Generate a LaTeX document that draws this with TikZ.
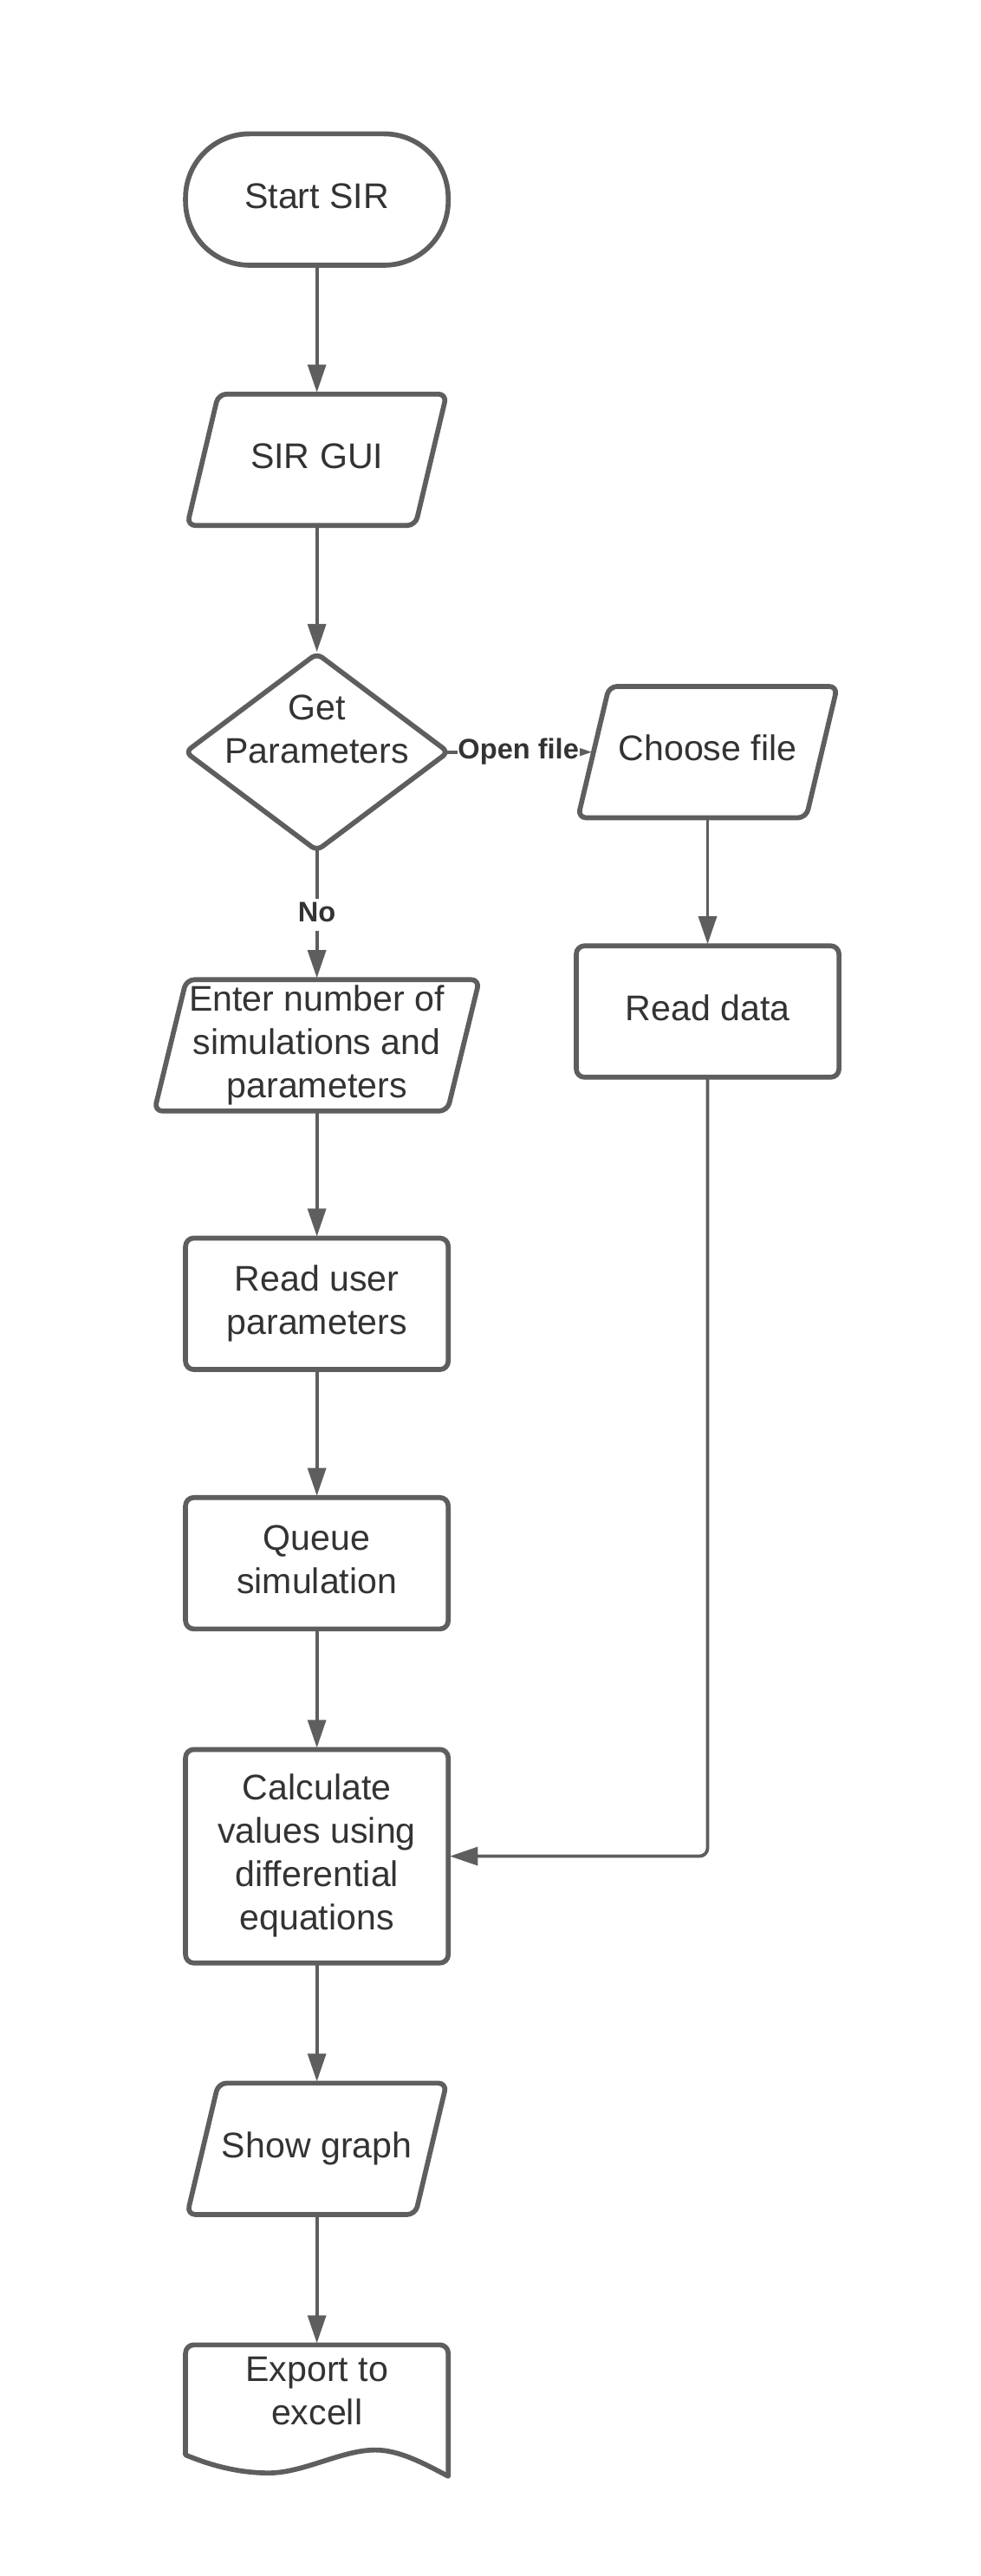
\documentclass[tikz,border=0pt]{standalone}
\usepackage{fontspec}
\setmainfont{Liberation Sans}
\usetikzlibrary{arrows.meta,calc}
\definecolor{linegray}{HTML}{5E5E5E}
\definecolor{textgray}{HTML}{333333}
\tikzset{
  border/.style={draw=linegray, line width=3pt, line join=round},
  conn/.style={draw=linegray, line width=2pt, -{Triangle[length=17pt,width=11pt]}, shorten >=1pt},
  maintext/.style={text=textgray, font=\fontsize{21.7}{26.4}\selectfont, align=center, inner sep=0pt, outer sep=0pt},
  shapeframe/.style={shape=rectangle, inner sep=0pt, outer sep=0pt, minimum width=160pt, minimum height=80pt},
  procbox/.style={shapeframe, border, rounded corners=5pt, maintext},
  lbl/.style={text=textgray, font=\fontsize{17.2}{19.4}\selectfont\bfseries, fill=white, inner xsep=0.5pt, inner ysep=0pt},
}
\newcommand\paraoutline[2]{\draw[border, rounded corners=5pt] ([xshift=#2]#1.north west) -- (#1.north east) -- ([xshift=-#2]#1.south east) -- (#1.south west) -- cycle;}
\begin{document}
\begin{tikzpicture}[x=1pt,y=-1pt]
\path[fill=white, use as bounding box] (0,0) rectangle (597,1568.75);

% terminal
\node[procbox, rounded corners=39pt] (start) at (193,121.5) {Start SIR\strut};

% SIR GUI
\node[maintext, shapeframe, minimum width=158pt] (gui) at (193,280) {SIR GUI\strut};
\paraoutline{gui}{19pt}

% decision
\node[shapeframe, minimum width=160pt, minimum height=120pt] (gp) at (193,458) {};
\draw[border, rounded corners=4pt] (gp.north) -- (gp.east) -- (gp.south) -- (gp.west) -- cycle;
\node[maintext] (gpt) at (193,446.5) {Get\strut\\Parameters\strut};

% choose file
\node[maintext, shapeframe, minimum width=158pt] (cf) at (431,458) {Choose file\strut};
\paraoutline{cf}{19pt}
\coordinate (cfin) at ($(cf.north west)!0.5!(cf.south west)+(9.5,0)$);

% read data
\node[procbox] (rd) at (431,616) {Read data\strut};

% enter number
\node[maintext, shapeframe, minimum width=198pt] (enter) at (193,636.6) {Enter number of\strut\\simulations and\strut\\parameters\strut};
\paraoutline{enter}{19.5pt}

% read user parameters
\node[procbox] (rup) at (193,794) {Read user\strut\\parameters\strut};

% queue simulation
\node[procbox] (queue) at (193,952) {Queue\strut\\simulation\strut};

% calculate
\node[procbox, minimum height=130pt] (calc) at (193,1130.4) {Calculate\strut\\values using\strut\\differential\strut\\equations\strut};

% show graph
\node[maintext, shapeframe, minimum width=158pt] (show) at (193,1308.6) {Show graph\strut};
\paraoutline{show}{19pt}

% export document
\node[shapeframe] (doc) at (193,1468) {};
\begin{scope}[shift={(doc.north west)}]
\draw[border] (0,67) [rounded corners=5pt] -- (0,0) -- (160,0) -- (160,40) [sharp corners] -- (160,80)
  .. controls (145,72) and (130,64) .. (115.6,64)
  .. controls (95,64) and (72,78) .. (50.6,78)
  .. controls (30,78) and (12,72) .. (0,67) -- cycle;
\end{scope}
\node[maintext] (doct) at (193,1458.4) {Export to\strut\\excell\strut};

% connectors
\draw[conn] (start.south) -- (gui.north);
\draw[conn] (gui.south) -- (gp.north);
\draw[conn, shorten <=-3pt, shorten >=1pt] (gp.east) -- node[lbl, xshift=-1.5pt] (lopen) {Open file\strut} (cfin);
\draw[conn, shorten <=-1.5pt] (gp.south) -- node[lbl] (lno) {No\strut} (enter.north);
\draw[conn] (cf.south) -- (rd.north);
\draw[conn, rounded corners=5pt] (rd.south) |- (calc.east);
\draw[conn] (enter.south) -- (rup.north);
\draw[conn] (rup.south) -- (queue.north);
\draw[conn] (queue.south) -- (calc.north);
\draw[conn] (calc.south) -- (show.north);
\draw[conn] (show.south) -- (doc.north);
\end{tikzpicture}
\end{document}
